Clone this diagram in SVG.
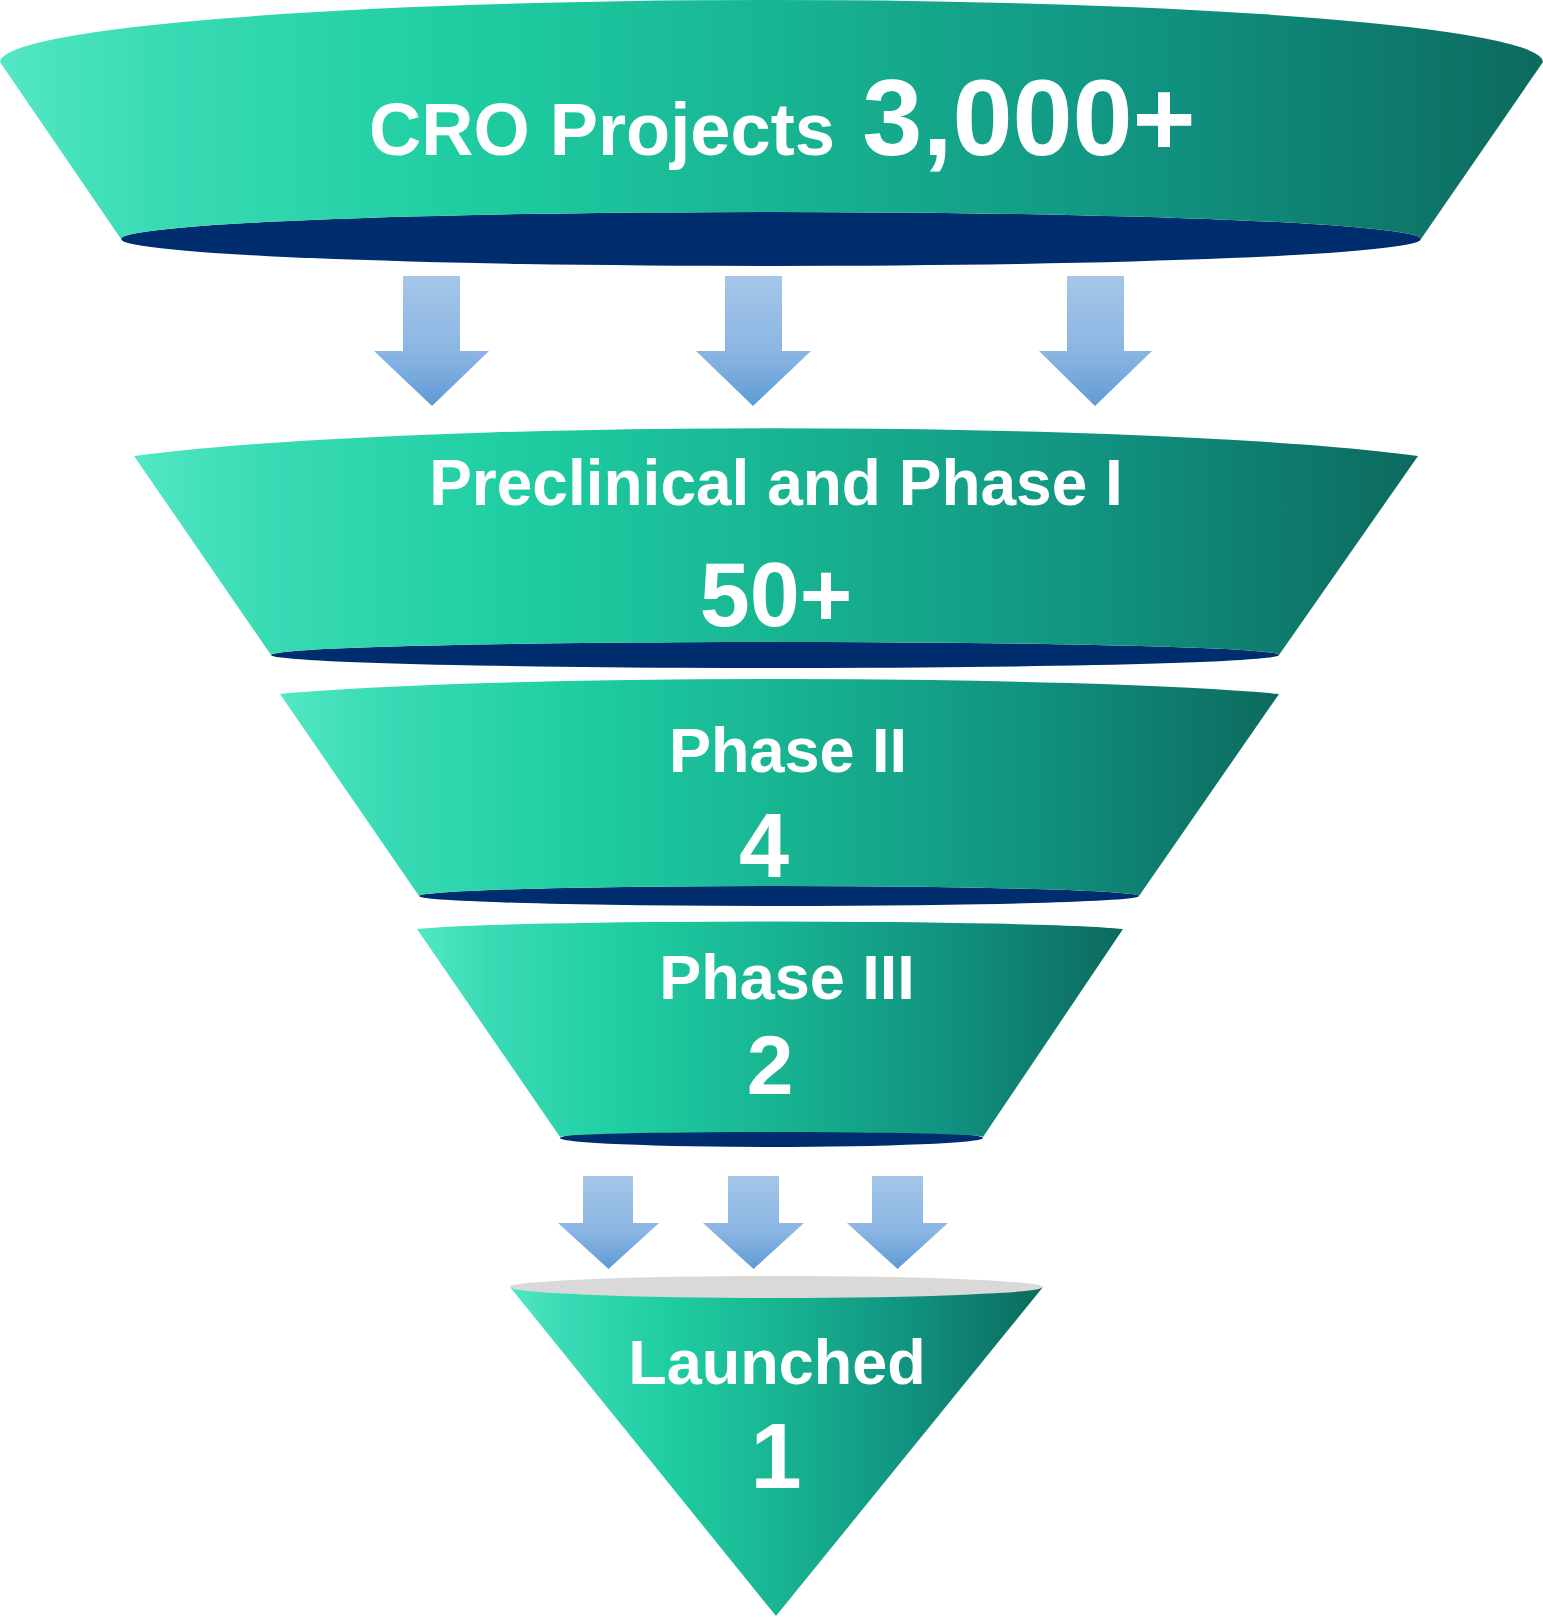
<svg xmlns="http://www.w3.org/2000/svg" width="1543" height="1617" viewBox="0 0 1543 1617">
<defs>
<linearGradient id="teal" x1="0" y1="0" x2="1" y2="0">
<stop offset="0" stop-color="#52e8c3"/>
<stop offset="0.1" stop-color="#39dbb5"/>
<stop offset="0.3" stop-color="#1fcda2"/>
<stop offset="0.5" stop-color="#18b592"/>
<stop offset="0.75" stop-color="#119280"/>
<stop offset="1" stop-color="#0c6a5e"/>
</linearGradient>
<linearGradient id="blue" x1="0" y1="0" x2="0" y2="1">
<stop offset="0" stop-color="#a4c6e9"/>
<stop offset="0.6" stop-color="#8ab5e2"/>
<stop offset="1" stop-color="#5e9bd6"/>
</linearGradient>
</defs>
<style>
.body{fill:url(#teal);}
.dark{fill:#002d6e;}
.arr{fill:url(#blue);}
.t{font-family:"Liberation Sans",Arial,sans-serif;font-weight:bold;fill:#ffffff;text-anchor:middle;}
</style>

<g id="connectors">
<polygon class="arr" points="403,276 460,276 460,351 489,351 432,406 374,351 403,351"/>
<polygon class="arr" points="725,276 782,276 782,351 811,351 753,406 696,351 725,351"/>
<polygon class="arr" points="1067,276 1124,276 1124,351 1152,351 1095,406 1039,351 1067,351"/>
<polygon class="arr" points="583,1176 633,1176 633,1223 659,1223 608.5,1269 558,1223 583,1223"/>
<polygon class="arr" points="728,1176 779,1176 779,1223 804,1223 753.5,1269 703,1223 728,1223"/>
<polygon class="arr" points="872,1176 923,1176 923,1223 948,1223 897.5,1269 847,1223 872,1223"/>
</g>

<g id="cro-projects">
<ellipse class="dark" cx="771" cy="239" rx="650" ry="27"/>
<path class="body" d="M 0 62 L 121 239 A 650 27 0 0 1 1421 239 L 1543 62 A 771.5 62 0 0 0 0 62 Z"/>
<text class="t" y="155"><tspan x="602" font-size="74" textLength="466" lengthAdjust="spacingAndGlyphs">CRO Projects</tspan><tspan x="1029" font-size="108">3,000+</tspan></text>
</g>

<g id="preclinical">
<ellipse class="dark" cx="775" cy="655" rx="504" ry="13"/>
<path class="body" d="M 134 456 L 271 655 A 504 13 0 0 1 1279 655 L 1418 456 A 730 53 0 0 0 134 456 Z"/>
<text class="t" x="776" y="505" font-size="64">Preclinical and Phase I</text>
<text class="t" x="776" y="626" font-size="90">50+</text>
</g>

<g id="phase2">
<ellipse class="dark" cx="779" cy="896" rx="360" ry="10"/>
<path class="body" d="M 280 694 L 419 896 A 360 10 0 0 1 1139 896 L 1279 694 A 568 28.5 0 0 0 280 694 Z"/>
<text class="t" x="788" y="772" font-size="63">Phase II</text>
<text class="t" x="764" y="877" font-size="90">4</text>
</g>

<g id="phase3">
<ellipse class="dark" cx="771.5" cy="1138" rx="211.5" ry="9"/>
<path class="body" d="M 417 929 L 560 1137 A 211.5 5 0 0 1 983 1137 L 1123 929 A 365 10 0 0 0 417 929 Z"/>
<text class="t" x="787" y="999" font-size="63">Phase III</text>
<text class="t" x="770" y="1094" font-size="84">2</text>
</g>

<g id="launched">
<path class="body" d="M 510 1287 L 1043 1287 L 776 1616 Z"/>
<ellipse cx="776.5" cy="1287" rx="266.5" ry="11" fill="#d9d9d9"/>
<text class="t" x="777" y="1384" font-size="63">Launched</text>
<text class="t" x="776" y="1488" font-size="92">1</text>
</g>
</svg>
